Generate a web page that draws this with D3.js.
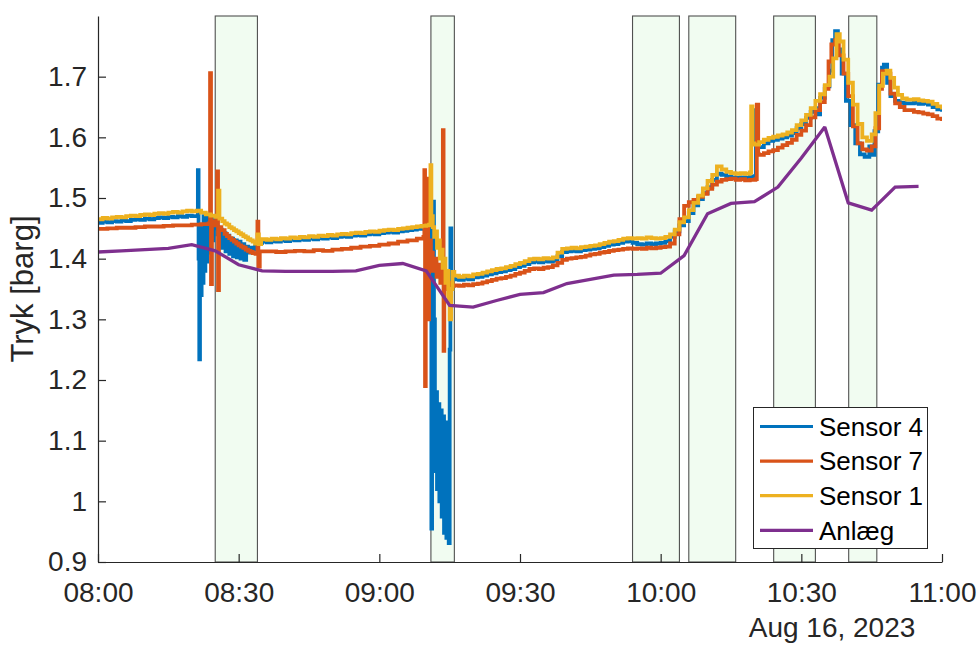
<!DOCTYPE html>
<html>
<head>
<meta charset="utf-8">
<script src="https://cdn.jsdelivr.net/npm/d3@7/dist/d3.min.js"></script>
<style>
  html, body { margin: 0; padding: 0; background: #fff; }
  svg { display: block; font-family: "Liberation Sans", Arial, Helvetica, sans-serif; }
</style>
</head>
<body>
<svg id="chart" width="980" height="645"></svg>
<script>
// ---------- DATA (minutes after 08:00 on Aug 16, 2023) ----------
const seriesNames = ["Sensor 4", "Sensor 7", "Sensor 1", "Anlæg"];

const sensor4 = [[0,1.459],[1,1.461],[2,1.460],[3,1.462],[4,1.461],[5,1.463],[6,1.462],[7,1.464],[8,1.465],[9,1.464],[10,1.466],[11,1.465],[12,1.467],[13,1.468],[14,1.467],[15,1.469],[16,1.468],[17,1.470],[18,1.469],[19,1.471],[20,1.470],[21,1.470],[21.3,1.546],[21.45,1.400],[21.6,1.234],[21.75,1.420],[21.9,1.340],[22.1,1.455],[22.3,1.360],[22.5,1.470],[22.7,1.380],[22.9,1.450],[23.1,1.395],[23.3,1.468],[23.6,1.410],[23.9,1.465],[24.2,1.430],[24.6,1.468],[25,1.450],[25.5,1.440],[26,1.448],[26.4,1.418],[26.8,1.442],[27.2,1.412],[27.6,1.438],[28,1.408],[28.4,1.433],[28.8,1.404],[29.2,1.430],[29.6,1.402],[30,1.428],[30.4,1.400],[30.8,1.424],[31.2,1.398],[31.6,1.420],[32,1.410],[32.5,1.418],[33,1.415],[33.5,1.420],[34,1.426],[35,1.428],[36,1.427],[37,1.429],[38,1.428],[39,1.430],[40,1.429],[41,1.431],[42,1.430],[43,1.432],[44,1.431],[45,1.433],[46,1.432],[47,1.434],[48,1.433],[49,1.435],[50,1.434],[51,1.436],[52,1.437],[53,1.436],[54,1.438],[55,1.439],[56,1.438],[57,1.440],[58,1.441],[59,1.440],[60,1.442],[61,1.443],[62,1.444],[63,1.443],[64,1.445],[65,1.446],[66,1.447],[67,1.448],[68,1.449],[69,1.450],[70,1.450],[70.8,1.445],[71.0,1.350],[71.1,0.955],[71.25,1.330],[71.45,1.494],[71.65,1.300],[71.85,1.050],[72.05,1.180],[72.3,1.020],[72.55,1.160],[72.8,1.000],[73.05,1.150],[73.3,0.975],[73.55,1.140],[73.8,0.948],[74.05,1.130],[74.3,0.940],[74.55,1.115],[74.8,0.931],[75.0,1.250],[75.15,1.450],[75.35,1.350],[75.6,1.370],[76,1.366],[77,1.365],[78,1.367],[79,1.366],[80,1.369],[81,1.370],[82,1.372],[83,1.374],[84,1.376],[85,1.378],[86,1.379],[87,1.381],[88,1.383],[89,1.386],[90,1.388],[91,1.391],[92,1.394],[93,1.395],[94,1.394],[95,1.396],[96,1.395],[97,1.397],[98,1.404],[99,1.411],[100,1.412],[101,1.413],[102,1.412],[103,1.414],[104,1.415],[105,1.416],[106,1.417],[107,1.419],[108,1.421],[109,1.423],[110,1.424],[111,1.426],[112,1.428],[113,1.429],[114,1.426],[115,1.424],[116,1.423],[117,1.425],[118,1.424],[119,1.425],[120,1.426],[121,1.429],[122,1.436],[123,1.445],[124,1.455],[125,1.462],[126,1.475],[127,1.488],[128,1.498],[129,1.508],[130,1.518],[131,1.530],[132,1.540],[133,1.538],[134,1.535],[135,1.534],[136,1.533],[137,1.534],[138,1.533],[139,1.535],[140,1.536],[140.3,1.645],[140.6,1.585],[141,1.584],[142,1.590],[143,1.594],[144,1.596],[145,1.598],[146,1.600],[147,1.603],[148,1.607],[149,1.615],[150,1.622],[151,1.632],[152,1.642],[153,1.648],[153.5,1.638],[154,1.665],[155,1.684],[156,1.710],[156.6,1.760],[157.2,1.775],[157.8,1.745],[158.6,1.705],[159.5,1.660],[160.5,1.620],[161.5,1.590],[162.5,1.572],[163.5,1.568],[164.5,1.585],[165.2,1.571],[165.6,1.610],[166.4,1.687],[167.2,1.715],[167.6,1.720],[168.3,1.690],[169,1.668],[170,1.660],[171,1.657],[172,1.656],[174,1.657],[175,1.655],[176,1.656],[177,1.654],[178,1.650],[179,1.646],[180,1.642]];

const sensor7 = [[0,1.449],[2,1.450],[4,1.451],[6,1.451],[8,1.452],[10,1.453],[12,1.453],[14,1.454],[16,1.455],[18,1.455],[20,1.456],[22,1.457],[23.6,1.458],[23.9,1.706],[24.1,1.358],[24.3,1.462],[24.8,1.455],[25.4,1.544],[25.6,1.348],[25.8,1.452],[26.3,1.447],[27,1.441],[27.5,1.437],[28,1.434],[28.5,1.431],[29,1.428],[29.5,1.425],[30,1.422],[30.5,1.420],[31,1.418],[31.5,1.415],[32,1.413],[32.5,1.411],[33,1.409],[33.6,1.408],[34.0,1.461],[34.2,1.387],[34.5,1.412],[36,1.412],[38,1.411],[40,1.412],[42,1.413],[44,1.412],[46,1.414],[48,1.413],[50,1.415],[52,1.416],[54,1.418],[56,1.420],[58,1.421],[60,1.423],[62,1.425],[64,1.428],[66,1.430],[68,1.433],[69.4,1.436],[69.6,1.546],[69.75,1.190],[69.9,1.420],[70.2,1.532],[70.4,1.300],[70.6,1.430],[71.0,1.410],[71.4,1.380],[71.8,1.400],[72.2,1.370],[72.6,1.390],[73.0,1.360],[73.4,1.380],[73.55,1.612],[73.7,1.248],[73.85,1.370],[74.3,1.350],[74.8,1.340],[75.2,1.360],[75.6,1.355],[76,1.356],[77,1.355],[78,1.357],[79,1.356],[80,1.358],[81,1.359],[82,1.361],[83,1.363],[84,1.365],[85,1.367],[86,1.368],[87,1.370],[88,1.372],[89,1.375],[90,1.377],[91,1.380],[92,1.383],[93,1.384],[94,1.383],[95,1.385],[96,1.386],[97,1.389],[98,1.393],[99,1.398],[100,1.400],[101,1.401],[102,1.402],[103,1.403],[104,1.405],[105,1.407],[106,1.408],[107,1.410],[108,1.411],[109,1.413],[110,1.414],[111,1.415],[112,1.416],[113,1.417],[114,1.416],[115,1.417],[116,1.416],[117,1.418],[118,1.417],[119,1.418],[120,1.419],[121,1.420],[122,1.425],[123,1.440],[124,1.465],[125,1.487],[126,1.493],[127,1.497],[128,1.502],[129,1.507],[130,1.515],[131,1.522],[132,1.527],[133,1.530],[134,1.531],[135,1.532],[136,1.530],[137,1.531],[138,1.529],[139,1.530],[140.2,1.531],[140.5,1.654],[140.8,1.572],[141,1.571],[142,1.574],[143,1.577],[144,1.579],[145,1.583],[146,1.587],[147,1.591],[148,1.596],[149,1.604],[150,1.611],[151,1.620],[152,1.633],[153,1.645],[154,1.658],[155,1.680],[155.8,1.725],[156.4,1.753],[157.2,1.760],[158,1.735],[159,1.705],[160,1.668],[161,1.618],[162,1.590],[163,1.580],[164,1.578],[165,1.585],[165.8,1.615],[166.6,1.680],[167.2,1.709],[168,1.705],[169,1.672],[170,1.656],[171,1.650],[172,1.645],[174,1.642],[175,1.641],[176,1.639],[177,1.638],[178,1.635],[179,1.631],[180,1.627]];

const sensor1 = [[0,1.465],[1,1.467],[2,1.466],[3,1.468],[4,1.469],[5,1.468],[6,1.470],[7,1.471],[8,1.470],[9,1.472],[10,1.473],[11,1.472],[12,1.474],[13,1.475],[14,1.474],[15,1.476],[16,1.477],[17,1.476],[18,1.478],[19,1.479],[20,1.478],[21,1.479],[22,1.476],[23,1.473],[24,1.471],[25,1.469],[25.6,1.512],[25.9,1.466],[26.5,1.462],[27,1.458],[27.5,1.456],[28,1.452],[28.5,1.450],[29,1.447],[29.5,1.445],[30,1.442],[30.5,1.440],[31,1.437],[31.5,1.435],[32,1.432],[32.5,1.430],[33,1.428],[33.5,1.425],[34,1.440],[34.3,1.424],[34.8,1.432],[36,1.431],[37,1.433],[38,1.432],[39,1.434],[40,1.433],[41,1.435],[42,1.434],[43,1.436],[44,1.435],[45,1.437],[46,1.436],[47,1.438],[48,1.437],[49,1.439],[50,1.438],[51,1.440],[52,1.441],[53,1.440],[54,1.442],[55,1.443],[56,1.442],[57,1.444],[58,1.445],[59,1.444],[60,1.446],[61,1.447],[62,1.448],[63,1.447],[64,1.449],[65,1.450],[66,1.451],[67,1.452],[68,1.453],[69,1.454],[70,1.455],[70.6,1.456],[70.9,1.554],[71.1,1.470],[71.4,1.452],[71.7,1.436],[72.0,1.445],[72.3,1.418],[72.6,1.430],[72.9,1.400],[73.2,1.415],[73.5,1.385],[73.8,1.400],[74.1,1.360],[74.4,1.380],[74.7,1.330],[75.0,1.300],[75.3,1.350],[75.6,1.378],[76,1.372],[77,1.370],[78,1.372],[79,1.371],[80,1.374],[81,1.375],[82,1.377],[83,1.379],[84,1.381],[85,1.383],[86,1.384],[87,1.386],[88,1.388],[89,1.391],[90,1.393],[91,1.396],[92,1.399],[93,1.400],[94,1.399],[95,1.401],[96,1.400],[97,1.402],[98,1.410],[99,1.416],[100,1.417],[101,1.418],[102,1.417],[103,1.419],[104,1.420],[105,1.421],[106,1.422],[107,1.424],[108,1.426],[109,1.428],[110,1.429],[111,1.431],[112,1.433],[113,1.434],[114,1.433],[115,1.434],[116,1.433],[117,1.435],[118,1.434],[119,1.433],[120,1.434],[121,1.436],[122,1.440],[123,1.448],[124,1.460],[125,1.468],[126,1.480],[127,1.492],[128,1.504],[129,1.516],[130,1.528],[131,1.538],[132,1.552],[133,1.547],[134,1.543],[135,1.541],[136,1.540],[137,1.541],[138,1.540],[139,1.542],[139.3,1.651],[139.6,1.590],[140,1.588],[141,1.592],[142,1.596],[143,1.599],[144,1.601],[145,1.603],[146,1.605],[147,1.608],[148,1.612],[149,1.620],[150,1.628],[151,1.637],[152,1.648],[153,1.660],[154,1.671],[155,1.686],[156,1.700],[156.8,1.730],[157.5,1.770],[158.2,1.758],[159,1.728],[160,1.690],[161,1.654],[162,1.622],[163,1.600],[164,1.594],[165,1.605],[165.8,1.640],[166.6,1.685],[167.4,1.705],[168.2,1.710],[169,1.698],[169.8,1.682],[170.6,1.670],[171.5,1.664],[172.5,1.662],[174,1.663],[175,1.661],[176,1.660],[177,1.659],[178,1.655],[179,1.651],[180,1.646]];

const anlaegMinutes = [0,5,10,15,20,25,30,35,40,45,50,55,60,65,70,75,80,85,90,95,100,105,110,115,120,125,130,135,140,145,150,155,160,165,170,175];
const anlaegValues  = [1.411,1.413,1.415,1.417,1.423,1.413,1.390,1.380,1.379,1.379,1.379,1.380,1.389,1.392,1.380,1.323,1.320,1.331,1.341,1.344,1.359,1.366,1.373,1.374,1.376,1.405,1.474,1.491,1.494,1.518,1.566,1.617,1.492,1.480,1.518,1.519];

// shaded intervals [start, end] in minutes after 08:00
const shadeStart = [25, 71, 114, 126, 144.1, 160.1];
const shadeEnd   = [34, 76, 124, 136, 153, 166.1];

const yTickValues = [0.9, 1.0, 1.1, 1.2, 1.3, 1.4, 1.5, 1.6, 1.7];
const yTickLabels = ["0.9", "1", "1.1", "1.2", "1.3", "1.4", "1.5", "1.6", "1.7"];
const xTickMinutes = [0, 30, 60, 90, 120, 150, 180];
const xTickLabels = ["08:00", "08:30", "09:00", "09:30", "10:00", "10:30", "11:00"];
const dateLabel = "Aug 16, 2023";
const yLabel = "Tryk [barg]";
const colors = ["#0072BD", "#D95319", "#EDB120", "#7E2F8E"];

// ---------- CHART ----------
const BASE = new Date(2023, 7, 16, 8, 0, 0);
const toDate = m => new Date(BASE.getTime() + m * 60000);

const svg = d3.select("#chart");
const L = 98, R = 942, T = 16, B = 562;
const x = d3.scaleTime().domain([toDate(0), toDate(180)]).range([L, R]);
const y = d3.scaleLinear().domain([0.9, 1.8]).range([B, T]);
const textColor = "#262626";

svg.append("defs").append("clipPath").attr("id", "clip")
  .append("rect").attr("x", L).attr("y", T).attr("width", R - L).attr("height", B - T);

// shaded patches
const shades = shadeStart.map((s, i) => [s, shadeEnd[i]]);
svg.append("g").selectAll("rect").data(shades).join("rect")
  .attr("x", d => x(toDate(d[0])))
  .attr("y", T)
  .attr("width", d => x(toDate(d[1])) - x(toDate(d[0])))
  .attr("height", B - T)
  .attr("fill", "#f1fcf1")
  .attr("stroke", "#333")
  .attr("stroke-opacity", 0.85)
  .attr("stroke-width", 1.1);

// lines
const sensorLine = d3.line()
  .x(d => x(toDate(d[0])))
  .y(d => y(d[1]))
  .curve(d3.curveStepAfter);
const plantLine = d3.line()
  .x(d => x(toDate(d[0])))
  .y(d => y(d[1]));

const anlaeg = anlaegMinutes.map((m, i) => [m, anlaegValues[i]]);
const allSeries = [sensor4, sensor7, sensor1, anlaeg];
const widths = [3.8, 3.8, 3.8, 3.3];

const gLines = svg.append("g").attr("clip-path", "url(#clip)");
allSeries.forEach((s, i) => {
  gLines.append("path")
    .datum(s)
    .attr("d", i < 3 ? sensorLine : plantLine)
    .attr("fill", "none")
    .attr("stroke", colors[i])
    .attr("stroke-width", widths[i])
    .attr("stroke-linejoin", "miter")
    .attr("stroke-miterlimit", 2);
});

// axes
const xAxis = d3.axisBottom(x)
  .tickValues(xTickMinutes.map(toDate))
  .tickFormat((d, i) => xTickLabels[i])
  .tickSizeInner(-8).tickSizeOuter(0).tickPadding(20);
const yAxis = d3.axisLeft(y)
  .tickValues(yTickValues)
  .tickFormat((d, i) => yTickLabels[i])
  .tickSizeInner(-8).tickSizeOuter(0).tickPadding(11);

const gx = svg.append("g").attr("transform", `translate(0,${B})`).call(xAxis);
const gy = svg.append("g").attr("transform", `translate(${L},0)`).call(yAxis);
[gx, gy].forEach(g => {
  g.select(".domain").attr("stroke", textColor).attr("stroke-width", 1.2);
  g.selectAll(".tick line").attr("stroke", textColor).attr("stroke-width", 1.2);
  g.selectAll(".tick text").attr("fill", textColor)
    .style("font-size", "28px")
    .style("font-family", "'Liberation Sans', Arial, sans-serif");
});

// y label
svg.append("text")
  .attr("transform", `translate(33,${(T + B) / 2}) rotate(-90)`)
  .attr("text-anchor", "middle")
  .attr("fill", textColor)
  .style("font-size", "31px")
  .text(yLabel);

// date label
svg.append("text")
  .attr("x", 832).attr("y", 637)
  .attr("text-anchor", "middle")
  .attr("fill", textColor)
  .style("font-size", "28px")
  .text(dateLabel);

// legend
const lg = svg.append("g");
lg.append("rect")
  .attr("x", 753.5).attr("y", 407.5).attr("width", 174).attr("height", 141)
  .attr("fill", "#fff").attr("stroke", textColor).attr("stroke-width", 1);
seriesNames.forEach((name, i) => {
  const yy = 426.5 + i * 34.6;
  lg.append("line").attr("x1", 760).attr("x2", 813).attr("y1", yy).attr("y2", yy)
    .attr("stroke", colors[i]).attr("stroke-width", 3.2);
  lg.append("text").attr("x", 819).attr("y", yy).attr("dy", "0.36em")
    .attr("fill", "#000").style("font-size", "26px").text(name);
});
</script>
</body>
</html>
